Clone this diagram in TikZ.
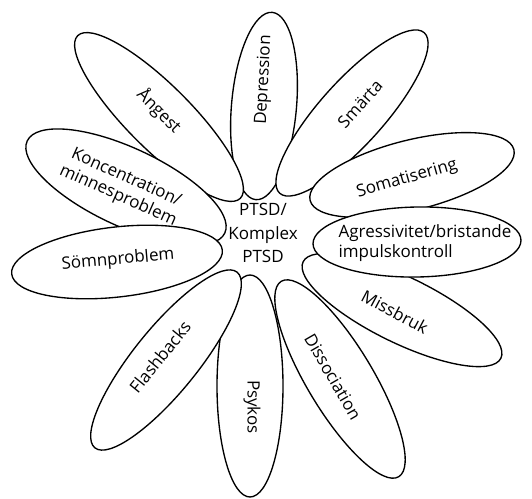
\documentclass[tikz,border=0pt]{standalone}
\usepackage{fontspec}
\setmainfont{Open Sans}
\usetikzlibrary{shapes.geometric}

\begin{document}
\begin{tikzpicture}[x=0.03cm, y=-0.03cm,
  petal/.style={draw=black, fill=white, ellipse, line width=1.15pt, inner sep=0pt},
  lab/.style={font=\fontsize{14.5}{17}\selectfont, inner sep=0pt, align=center}]
  \useasboundingbox (0,0) rectangle (532,498);
  % petals, back to front
  \node[petal, minimum width=5.64cm, minimum height=1.95cm, rotate=85]  (dep)  at (264,106) {};
  \node[petal, minimum width=6.48cm, minimum height=1.92cm, rotate=48]  (sma)  at (352,113) {};
  \node[petal, minimum width=6.30cm, minimum height=2.10cm, rotate=14]  (som)  at (412,175) {};
  \node[petal, minimum width=6.60cm, minimum height=1.98cm, rotate=-26] (mis)  at (402,310) {};
  \node[petal, minimum width=6.24cm, minimum height=2.10cm, rotate=1]   (agr)  at (417,242) {};
  \node[petal, minimum width=6.66cm, minimum height=1.98cm, rotate=90]  (psy)  at (250,386) {};
  \node[petal, minimum width=6.84cm, minimum height=1.98cm, rotate=-59] (dis)  at (340,379) {};
  \node[petal, minimum width=6.90cm, minimum height=1.92cm, rotate=-45] (ang)  at (159,117) {};
  \node[petal, minimum width=6.54cm, minimum height=2.34cm, rotate=-25] (kon)  at (126,187) {};
  \node[petal, minimum width=6.36cm, minimum height=2.10cm, rotate=6.5] (smn)  at (117,262) {};
  \node[petal, minimum width=6.78cm, minimum height=1.92cm, rotate=51]  (fla)  at (166,360) {};
  % petal texts
  \node[lab, rotate=87]  (dep-t) at (264,80)  {Depression};
  \node[lab, rotate=48]  (sma-t) at (360,104) {Smärta};
  \node[lab, rotate=16]  (som-t) at (407,179) {Somatisering};
  \node[lab, rotate=-28] (mis-t) at (395,312) {Missbruk};
  \node[lab, align=left] (agr-t) at (425,243) {Agressivitet/bristande\\impulskontroll};
  \node[lab, rotate=-90] (psy-t) at (252,407) {Psykos};
  \node[lab, rotate=-60] (dis-t) at (333,377) {Dissociation};
  \node[lab, rotate=-45] (ang-t) at (159,111) {Ångest};
  \node[lab, rotate=-24] (kon-t) at (122,187) {Koncentration/\\minnesproblem};
  \node[lab, rotate=5]   (smn-t) at (118,260) {Sömnproblem};
  \node[lab, rotate=51]  (fla-t) at (160,357) {Flashbacks};
  % centre
  \node[lab] (ptsd) at (263,233) {PTSD/\\[3pt]Komplex\\[3pt]PTSD};
\end{tikzpicture}
\end{document}
